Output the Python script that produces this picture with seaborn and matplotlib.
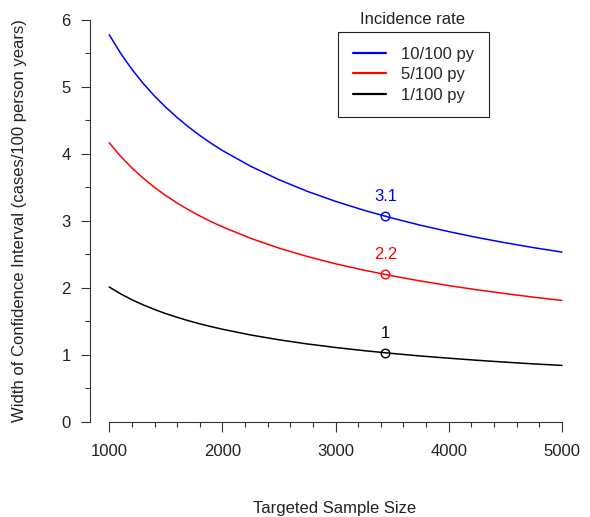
import matplotlib
matplotlib.use("Agg")
import matplotlib.pyplot as plt
import seaborn as sns
import pandas as pd

# ---- data ----
sample_size = [1000, 1100, 1200, 1300, 1400, 1500, 1600, 1700, 1800, 1900, 2000,
               2250, 2500, 2750, 3000, 3250, 3500, 3750, 4000, 4250, 4500, 4750, 5000]
width_10 = [5.780, 5.504, 5.264, 5.052, 4.864, 4.696, 4.542, 4.403, 4.275, 4.158, 4.050,
            3.814, 3.613, 3.440, 3.290, 3.157, 3.040, 2.933, 2.838, 2.750, 2.671, 2.598, 2.532]
width_5 = [4.165, 3.964, 3.790, 3.636, 3.499, 3.376, 3.265, 3.164, 3.072, 2.987, 2.909,
           2.737, 2.591, 2.466, 2.357, 2.262, 2.177, 2.100, 2.031, 1.968, 1.911, 1.858, 1.809]
width_1 = [2.010, 1.908, 1.820, 1.743, 1.674, 1.612, 1.557, 1.506, 1.460, 1.418, 1.379,
           1.293, 1.221, 1.159, 1.106, 1.059, 1.017, 0.979, 0.946, 0.915, 0.887, 0.861, 0.838]
series_names = ["10/100 py", "5/100 py", "1/100 py"]
series_colors = ["#0000FF", "#FF0000", "#000000"]

mark_x = [3440, 3440, 3440]
mark_y = [3.07, 2.20, 1.03]
mark_labels = ["3.1", "2.2", "1"]

x_ticks = [1000, 2000, 3000, 4000, 5000]
y_ticks = [0, 1, 2, 3, 4, 5, 6]

# ---- build tidy frame ----
frames = []
for name, vals in zip(series_names, [width_10, width_5, width_1]):
    frames.append(pd.DataFrame({"n": sample_size, "w": vals, "rate": name}))
df = pd.concat(frames, ignore_index=True)

sns.set_style("ticks")
plt.rcParams["font.family"] = ["Liberation Sans", "DejaVu Sans"]

W, H = 590, 517
fig = plt.figure(figsize=(W / 100, H / 100), dpi=100)
ax = fig.add_axes([90 / W, (H - 421.5) / H, 490 / W, (421.5 - 20) / H])

palette = dict(zip(series_names, series_colors))
sns.lineplot(data=df, x="n", y="w", hue="rate", hue_order=series_names,
             palette=palette, linewidth=1.1, ax=ax, legend=True)

mk = pd.DataFrame({"n": mark_x, "w": mark_y, "rate": series_names})
for _, r in mk.iterrows():
    ax.plot(r["n"], r["w"], marker="o", markersize=6.2, markerfacecolor="none",
            markeredgecolor=palette[r["rate"]], markeredgewidth=1.0, linestyle="none")
for xv, yv, lab, c in zip(mark_x, mark_y, mark_labels, series_colors):
    ax.annotate(lab, (xv, yv), xytext=(0, 14), textcoords="offset points",
                ha="center", va="center", color=c, fontsize=12)

ax.set_xlim(830, 5160)
ax.set_ylim(0, 6)
ax.set_xticks(x_ticks)
ax.set_xticks(list(range(1000, 5001, 200)), minor=True)
ax.set_yticks(y_ticks)
ax.set_yticks([0.5, 1.5, 2.5, 3.5, 4.5, 5.5], minor=True)
ax.set_xticklabels([str(v) for v in x_ticks])
ax.set_yticklabels([str(v) for v in y_ticks])

axis_col = "#333333"
for s in ["top", "right"]:
    ax.spines[s].set_visible(False)
ax.spines["left"].set_bounds(0, 6)
ax.spines["bottom"].set_bounds(1000, 5000)
for s in ["left", "bottom"]:
    ax.spines[s].set_linewidth(0.8)
    ax.spines[s].set_color(axis_col)

ax.tick_params(axis="x", which="major", length=7.2, width=0.8, color=axis_col,
               pad=9, labelsize=12, labelcolor="#222222")
ax.tick_params(axis="x", which="minor", length=3.6, width=0.8, color=axis_col)
ax.tick_params(axis="y", which="major", length=6.5, width=0.8, color=axis_col,
               pad=7.5, labelsize=12, labelcolor="#222222")
ax.tick_params(axis="y", which="minor", length=3.3, width=0.8, color=axis_col)

ax.set_xlabel("Targeted Sample Size", fontsize=12, color="#222222")
ax.set_ylabel("Width of Confidence Interval (cases/100 person years)", fontsize=12,
              color="#222222")
ax.xaxis.set_label_coords(0.5, (421.5 - 508) / 401.5)
ax.xaxis.label.set_va("center")
ax.yaxis.set_label_coords((20 - 90) / 490, 0.5)
ax.yaxis.label.set_va("center")

handles, labels = ax.get_legend_handles_labels()
hl = [(h, l) for h, l in zip(handles, labels) if l in series_names]
leg = ax.legend([h for h, _ in hl], [l for _, l in hl], loc="upper left",
                bbox_to_anchor=(338 / W, 1 - 32 / H), bbox_transform=fig.transFigure,
                borderaxespad=0, frameon=True, fancybox=False, framealpha=1,
                edgecolor="#222222", fontsize=12, handlelength=2.0,
                handletextpad=0.9, labelspacing=0.33, borderpad=0.88)
leg.get_frame().set_linewidth(0.8)
for ln in leg.get_lines():
    ln.set_linewidth(1.6)
fig.text(412 / W, 1 - 20 / H, "Incidence rate", ha="center", va="center",
         fontsize=12, color="#222222")

fig.savefig("out.png", dpi=100)
